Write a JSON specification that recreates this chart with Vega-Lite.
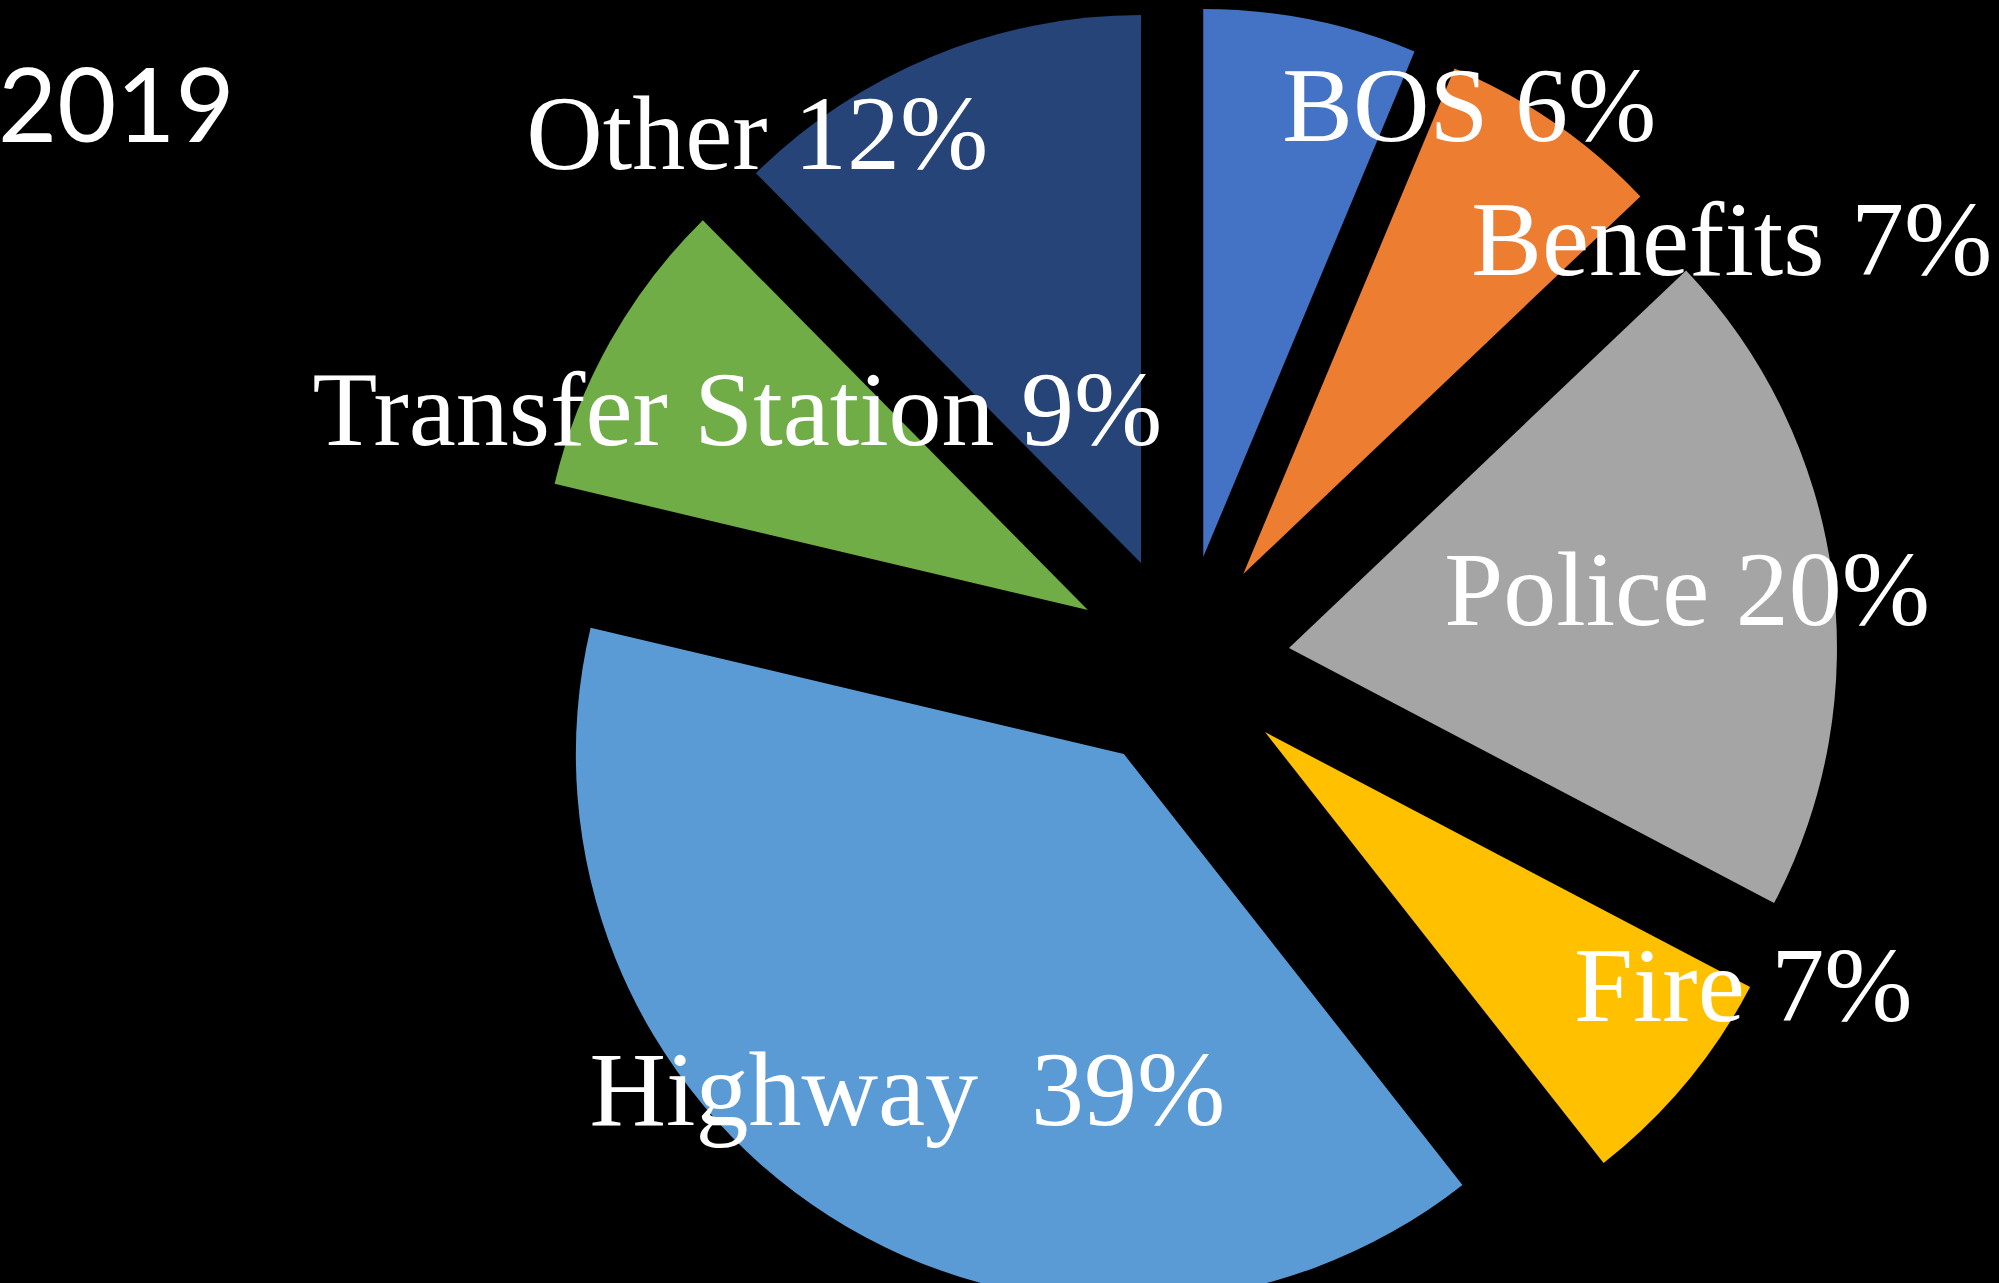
{
  "$schema": "https://vega.github.io/schema/vega-lite/v6.json",
  "width": 1634,
  "height": 1240,
  "autosize": "none",
  "padding": {"left": 365, "top": 43, "right": 0, "bottom": 0},
  "background": "#000000",
  "config": {"view": {"stroke": null}},
  "title": {
    "text": "2019",
    "anchor": "start",
    "frame": "group",
    "orient": "top",
    "offset": -235,
    "baseline": "alphabetic",
    "font": "Lato",
    "fontSize": 102,
    "fontWeight": "normal",
    "color": "#ffffff",
    "dx": -367
  },
  "data": {
    "values": [
      {"category": "BOS", "share": 6.3, "label": "BOS 6%", "order": 1},
      {"category": "Benefits", "share": 6.6, "label": "Benefits 7%", "order": 2},
      {"category": "Police", "share": 19.8, "label": "Police 20%", "order": 3},
      {"category": "Fire", "share": 6.7, "label": "Fire 7%", "order": 4},
      {"category": "Highway", "share": 39.3, "label": "Highway\u00a0 39%", "order": 5},
      {"category": "Transfer Station", "share": 8.9, "label": "Transfer Station 9%", "order": 6},
      {"category": "Other", "share": 12.4, "label": "Other 12%", "order": 7}
    ]
  },
  "encoding": {
    "theta": {"field": "share", "type": "quantitative", "stack": true},
    "order": {"field": "order", "type": "quantitative"}
  },
  "layer": [
    {
      "mark": {
        "type": "arc",
        "outerRadius": 548,
        "xOffset": {"expr": "108*sin(scale('theta', (datum.share_start + datum.share_end)/2))"},
        "yOffset": {"expr": "-108*cos(scale('theta', (datum.share_start + datum.share_end)/2))"}
      },
      "encoding": {
        "color": {
          "field": "category",
          "type": "nominal",
          "scale": {
            "domain": ["BOS", "Benefits", "Police", "Fire", "Highway", "Transfer Station", "Other"],
            "range": ["#4472C4", "#ED7D31", "#A5A5A5", "#FFC000", "#5B9BD5", "#70AD47", "#264478"]
          },
          "legend": null
        }
      }
    },
    {
      "mark": {
        "type": "text",
        "radius": 402,
        "font": "Liberation Serif",
        "fontSize": 106,
        "color": "#ffffff",
        "baseline": {"expr": "cos(scale('theta', (datum.share_start + datum.share_end)/2)) > 0.9 ? 'bottom' : 'middle'"},
        "align": {"expr": "sin(scale('theta', (datum.share_start + datum.share_end)/2)) > 0 && sin(scale('theta', (datum.share_start + datum.share_end)/2)) < 0.9 ? 'left' : (sin(scale('theta', (datum.share_start + datum.share_end)/2)) < 0 && sin(scale('theta', (datum.share_start + datum.share_end)/2)) > -0.85 && cos(scale('theta', (datum.share_start + datum.share_end)/2)) > 0 ? 'right' : 'center')"},
        "xOffset": {"expr": "108*sin(scale('theta', (datum.share_start + datum.share_end)/2))"},
        "yOffset": {"expr": "-108*cos(scale('theta', (datum.share_start + datum.share_end)/2))"}
      },
      "encoding": {
        "text": {"field": "label", "type": "nominal"}
      }
    }
  ]
}
